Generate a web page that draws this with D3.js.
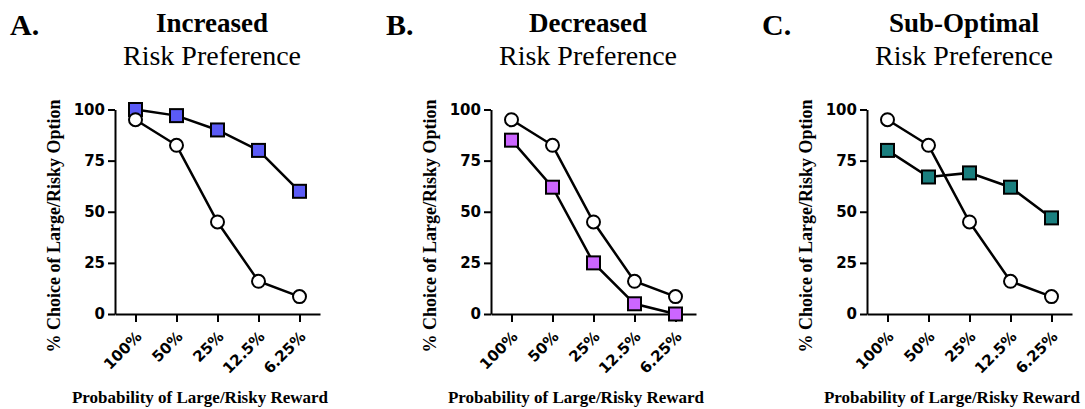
<!DOCTYPE html>
<html lang="en">
	<head>
		<meta charset="utf-8">
		<title>Risk preference panels</title>
		<script src="https://cdn.jsdelivr.net/npm/d3@7"></script>
		<style type="text/css">
			body { margin: 0; background: #fff; }
			.axis path, .axis line { stroke: #000; stroke-width: 2px; }
			.axis text { font-family: "DejaVu Sans", Arial, sans-serif; font-weight: bold; font-size: 15px; fill: #000; }
			.serif { font-family: "Liberation Serif", "Times New Roman", serif; fill: #000; }
		</style>
	</head>
	<body>
		<script type="text/javascript">
			/** Data **/
			var categories = ["100%", "50%", "25%", "12.5%", "6.25%"];
			var yTicks = [0, 25, 50, 75, 100];
			var controlValues = [95, 82.5, 45, 16, 8.5];
			var increasedValues = [100, 97, 90, 80, 60];
			var decreasedValues = [85, 62, 25, 5, 0];
			var subOptimalValues = [80, 67, 69, 62, 47];

			var panelLetters = ["A.", "B.", "C."];
			var panelTitles = ["Increased", "Decreased", "Sub-Optimal"];
			var panelSeries = [increasedValues, decreasedValues, subOptimalValues];
			var panelColors = ["#5B5BF6", "#CC66FF", "#1A7F7F"];

			var width = 1085;
			var height = 409;
			var panelStep = 376;

			var svg = d3.select("body")
						.append("svg")
						.attr("width", width)
						.attr("height", height);

			var x = d3.scalePoint().domain(categories).range([115, 320]).padding(0.5);
			var y = d3.scaleLinear().domain([0, 100]).range([314, 109.5]);

			var line = d3.line()
				.x((d, i) => x(categories[i]))
				.y((d) => y(d));

			panelSeries.forEach(function (values, p) {
				var g = svg.append("g").attr("transform", "translate(" + (p * panelStep) + ",0)");

				/** Titles **/
				g.append("text").attr("class", "serif")
					.attr("x", 10).attr("y", 35)
					.attr("font-size", "30px").attr("font-weight", "bold")
					.text(panelLetters[p]);
				g.append("text").attr("class", "serif")
					.attr("x", 212).attr("y", 32)
					.attr("text-anchor", "middle")
					.attr("font-size", "27px").attr("font-weight", "bold")
					.text(panelTitles[p]);
				g.append("text").attr("class", "serif")
					.attr("x", 212).attr("y", 65)
					.attr("text-anchor", "middle")
					.attr("font-size", "28px")
					.text("Risk Preference");

				/** Axes **/
				g.append("g").attr("class", "axis")
					.attr("transform", "translate(115,0)")
					.call(d3.axisLeft(y).tickValues(yTicks).tickSize(7).tickSizeOuter(0).tickPadding(3));

				var xa = g.append("g").attr("class", "axis")
					.attr("transform", "translate(0,314)")
					.call(d3.axisBottom(x).tickSize(8).tickSizeOuter(0));
				xa.selectAll("text")
					.attr("x", 0).attr("y", 0).attr("dy", "0.35em")
					.attr("text-anchor", "end")
					.attr("transform", "translate(3,20) rotate(-45)");

				g.append("text").attr("class", "serif")
					.attr("transform", "translate(60,226) rotate(-90)")
					.attr("text-anchor", "middle")
					.attr("font-size", "18px").attr("font-weight", "bold")
					.text("% Choice of Large/Risky Option");
				g.append("text").attr("class", "serif")
					.attr("x", 200).attr("y", 403)
					.attr("text-anchor", "middle")
					.attr("font-size", "17px").attr("font-weight", "bold")
					.text("Probability of Large/Risky Reward");

				/** Treatment series (squares) **/
				g.append("path").datum(values)
					.attr("d", line)
					.attr("fill", "none").attr("stroke", "#000").attr("stroke-width", 2.5);
				g.selectAll("rect.mk").data(values).enter()
					.append("rect").attr("class", "mk")
					.attr("x", (d, i) => x(categories[i]) - 6.5)
					.attr("y", (d) => y(d) - 6.5)
					.attr("width", 13).attr("height", 13)
					.attr("fill", panelColors[p])
					.attr("stroke", "#000").attr("stroke-width", 2);

				/** Control series (open circles) **/
				g.append("path").datum(controlValues)
					.attr("d", line)
					.attr("fill", "none").attr("stroke", "#000").attr("stroke-width", 2.5);
				g.selectAll("circle").data(controlValues).enter()
					.append("circle")
					.attr("cx", (d, i) => x(categories[i]))
					.attr("cy", (d) => y(d))
					.attr("r", 6.5)
					.attr("fill", "#fff")
					.attr("stroke", "#000").attr("stroke-width", 2);
			});
		</script>
	</body>
</html>
